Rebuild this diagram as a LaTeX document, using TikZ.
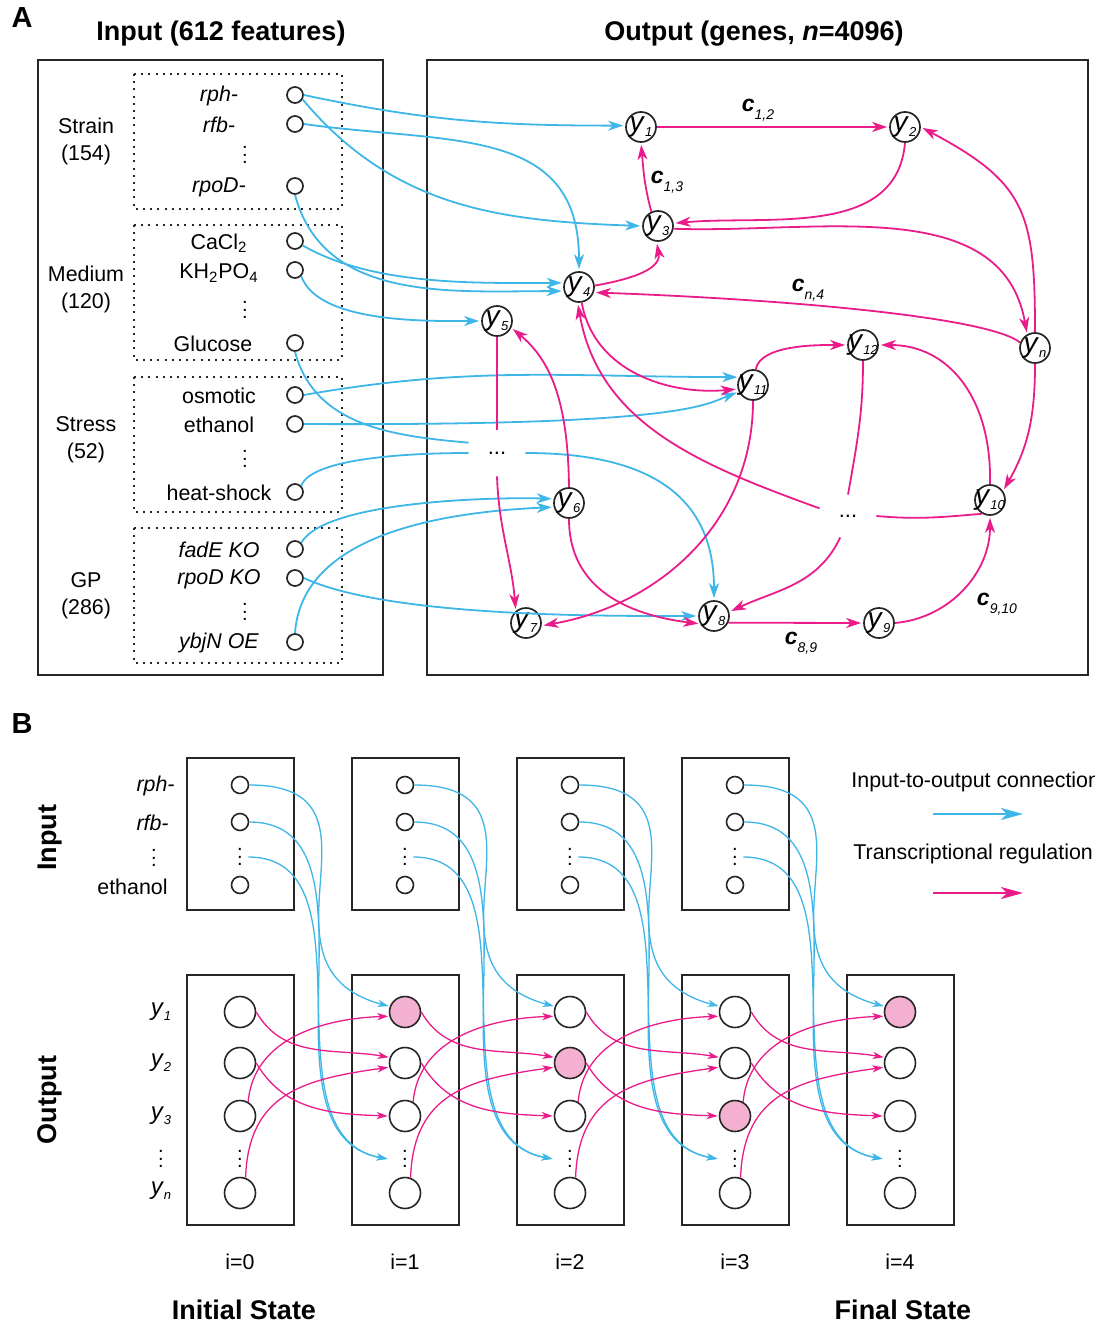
\documentclass[tikz,border=0pt]{standalone}
\usepackage{fontspec}
\setmainfont{Liberation Sans}
\usetikzlibrary{arrows.meta}

\definecolor{iocol}{RGB}{62,182,232}
\definecolor{regcol}{RGB}{234,28,138}
\definecolor{hitcol}{RGB}{244,176,208}

\newcommand{\vdts}{\vbox{\baselineskip=3.6pt\lineskiplimit=-10pt\hbox{.}\hbox{.}\hbox{.}}}
\newcommand{\gy}[1]{\textit{y}\raisebox{-0.35ex}{\fontsize{6.5}{6.5}\selectfont\textit{#1}}}
\newcommand{\cc}[1]{\textbf{\textit{c}}\raisebox{-0.7ex}{\fontsize{7}{7}\selectfont\textit{#1}}}

\tikzset{
  panel/.style={font=\fontsize{14.5}{16}\selectfont\bfseries},
  head/.style={font=\fontsize{13.5}{15}\selectfont\bfseries},
  frame/.style={draw=black!85, line width=0.85pt},
  grp/.style={draw=black!85, line width=1pt, dash pattern=on 1pt off 2.6pt},
  grplab/.style={align=center, font=\fontsize{10.7}{13.5}\selectfont},
  feat/.style={circle, draw=black!85, line width=0.85pt, minimum size=8pt, inner sep=0pt},
  vd/.style={inner sep=0pt, font=\fontsize{10}{10}\selectfont},
  gene/.style={circle, draw=black!85, line width=0.85pt, minimum size=15pt, inner sep=-6pt, font=\fontsize{14}{14}\selectfont},
  gap/.style={rectangle, inner sep=0pt, minimum width=28pt, font=\fontsize{11}{11}\selectfont},
  clab/.style={font=\fontsize{11.5}{11.5}\selectfont},
  io/.style={color=iocol, line width=0.9pt, -{Stealth[length=7.5pt,width=5pt,inset=2.2pt]}, shorten >=1pt},
  ioline/.style={color=iocol, line width=0.9pt},
  reg/.style={color=regcol, line width=0.9pt, -{Stealth[length=7.5pt,width=5pt,inset=2.2pt]}, shorten >=1pt},
  regline/.style={color=regcol, line width=0.9pt},
  icirc/.style={circle, draw=black!85, line width=0.8pt, minimum size=8.5pt, inner sep=0pt},
  ocirc/.style={circle, draw=black!85, line width=0.8pt, minimum size=15.5pt, inner sep=0pt},
  idots/.style={vd, minimum width=8pt},
  odots/.style={vd, minimum width=16pt},
  blab/.style={inner sep=0pt},
  iob/.style={color=iocol, line width=0.65pt, -{Stealth[length=5.5pt,width=3.6pt,inset=1.6pt]}, shorten >=0.5pt},
  regb/.style={color=regcol, line width=0.65pt, -{Stealth[length=5.5pt,width=3.6pt,inset=1.6pt]}, shorten >=0.5pt},
  legarr/.style={line width=0.9pt, -{Stealth[length=11pt,width=6pt,inset=3pt]}},
}

\begin{document}
\begin{tikzpicture}[x=0.5pt, y=-0.5pt, font=\fontsize{10.7}{13}\selectfont]
		\useasboundingbox (0,0) rectangle (1095,1332);
		
		%%%%% PANEL A %%%%%
		
		\node[panel] (labA) at (22,18) {A};
		\node[head] (hin) at (221,34) {Input (612 features)};
		\node[head] (hout) at (754,34) {Output (genes, \textit{n}=4096)};
		
		\draw[frame] (38,60) rectangle (383,675);
		\draw[frame] (427,60) rectangle (1088,675);
		
		\draw[grp] (134,74) rectangle (342,209);
		\draw[grp] (134,225) rectangle (342,360);
		\draw[grp] (134,377) rectangle (342,512);
		\draw[grp] (134,528) rectangle (342,663);
		
		\node[grplab] (gstrain) at (86,141) {Strain\\(154)};
		\node[grplab] (gmedium) at (86,289) {Medium\\(120)};
		\node[grplab] (gstress) at (86,440) {Stress\\(52)};
		\node[grplab] (ggp) at (86,596) {GP\\(286)};
		
		% input features
		\node (trph) at (219,96) {\textit{rph-}};
		\node (trfb) at (219,125) {\textit{rfb-}};
		\node[vd] (dstrain) at (245,155) {\vdts};
		\node (trpod) at (219,187) {\textit{rpoD-}};
		\node (tcacl) at (219,243) {CaCl\textsubscript{2}};
		\node (tkhpo) at (219,273) {KH\textsubscript{2}PO\textsubscript{4}};
		\node[vd] (dmedium) at (245,310) {\vdts};
		\node (tglu) at (213,344) {Glucose};
		\node (tosm) at (219,396) {osmotic};
		\node (teth) at (219,425) {ethanol};
		\node[vd] (dstress) at (245,459) {\vdts};
		\node (theat) at (219,493) {heat-shock};
		\node (tfade) at (219,550) {\textit{fadE KO}};
		\node (trpoko) at (219,579) {\textit{rpoD KO}};
		\node[vd] (dgp) at (245,612) {\vdts};
		\node (tybjn) at (219,643) {\textit{ybjN OE}};
		
		\node[feat] (rph) at (295,95) {};
		\node[feat] (rfb) at (295,124) {};
		\node[feat] (rpod) at (295,186) {};
		\node[feat] (cacl) at (295,241) {};
		\node[feat] (khpo) at (295,270) {};
		\node[feat] (glu) at (295,343) {};
		\node[feat] (osm) at (295,395) {};
		\node[feat] (eth) at (295,424) {};
		\node[feat] (heat) at (295,492) {};
		\node[feat] (fade) at (295,549) {};
		\node[feat] (rpoko) at (295,578) {};
		\node[feat] (ybjn) at (295,642) {};
		
		% output genes
		\node[gene] (y1) at (641,127) {\gy{1}};
		\node[gene] (y2) at (905,127) {\gy{2}};
		\node[gene] (y3) at (658,226) {\gy{3}};
		\node[gene] (y4) at (579,287) {\gy{4}};
		\node[gene] (y5) at (497,321) {\gy{5}};
		\node[gene] (y12) at (863,345) {\gy{12}};
		\node[gene] (yn) at (1035,348) {\gy{n}};
		\node[gene] (y11) at (753,385) {\gy{11}};
		\node[gene] (y6) at (569,503) {\gy{6}};
		\node[gene] (y10) at (990,500) {\gy{10}};
		\node[gene] (y7) at (526,623) {\gy{7}};
		\node[gene] (y8) at (714,616) {\gy{8}};
		\node[gene] (y9) at (879,623) {\gy{9}};
		\node[gap, minimum height=23pt] (dl) at (497,453) {...};
		\node[gap, minimum height=21pt] (dr) at (848,516) {...};
		
		\node[clab] (c12) at (758,110) {\cc{1,2}};
		\node[clab] (c13) at (667,182) {\cc{1,3}};
		\node[clab] (cn4) at (808,290) {\cc{n,4}};
		\node[clab] (c89) at (801,643) {\cc{8,9}};
		\node[clab] (c910) at (997,604) {\cc{9,10}};
		
		% input-to-output
		\draw[io] (rph.east) to[out=-12,in=180] (y1.175);
		\draw[io] (rph.-30) to[out=-50,in=178] (y3.west);
		\draw[io] (rfb.east) to[out=-8,in=90,looseness=1.2] (y4.north);
		\draw[io] (rpod.south) to[out=-75,in=180] (y4.195);
		\draw[io] (cacl.-30) to[out=-30,in=180,looseness=0.8] (y4.165);
		\draw[io] (khpo.-45) to[out=-70,in=180,looseness=0.7] (y5.west);
		\draw[ioline] (glu.south) to[out=-75,in=175] (dl.160);
		\draw[io] (osm.east) to[out=10,in=180] (y11.150);
		\draw[io] (eth.east) .. controls (680,426) and (705,405) .. (y11.205);
		\draw[ioline] (heat.45) to[out=70,in=180,looseness=0.5] (dl.west);
		\draw[io] (dl.east) to[out=0,in=90,looseness=1.2] (y8.north);
		\draw[io] (fade.45) to[out=60,in=178,looseness=0.5] (y6.165);
		\draw[io] (rpoko.east) to[out=-25,in=180,looseness=0.6] (y8.west);
		\draw[io] (ybjn.north) .. controls (300,560) and (380,515) .. (y6.195);
		
		% regulation
		\draw[reg] (y1.east) -- (y2.west);
		\draw[reg] (y3.115) to[out=105,in=-85] (y1.south);
		\draw[reg] (y2.south) to[out=-95,in=5] (y3.10);
		\draw[reg] (y3.-10) to[out=-2,in=100] (yn.120);
		\draw[reg] (yn.north) to[out=90,in=-28,looseness=1.3] (y2.east);
		\draw[reg] (yn.160) .. controls (990,318) and (800,300) .. (y4.-20);
		\draw[reg] (y4.5) to[out=10,in=-80] (y3.-95);
		\draw[reg] (y4.-80) to[out=-80,in=185] (y11.195);
		\draw[reg] (yn.south) to[out=-90,in=60] (y10.35);
		\draw[reg] (y11.80) to[out=80,in=180,looseness=0.7] (y12.west);
		\draw[reg] (y10.north) .. controls (992,400) and (950,345) .. (y12.east);
		\draw[regline] (y12.south) to[out=-90,in=80] (dr.north);
		\draw[regline] (y10.240) to[out=185,in=-5] (dr.east);
		\draw[reg] (dr.165) to[out=160,in=-80] (y4.-95);
		\draw[reg] (dr.-110) to[out=-115,in=25] (y8.15);
		\draw[reg] (y8.-25) -- (y9.west);
		\draw[reg] (y9.east) to[out=5,in=-90] (y10.south);
		\draw[regline] (y5.south) -- (dl.north);
		\draw[reg] (dl.south) to[out=-88,in=95] (y7.130);
		\draw[reg] (y6.north) .. controls (568,400) and (550,360) .. (y5.-25);
		\draw[reg] (y6.south) .. controls (569,590) and (630,615) .. (y8.-150);
		\draw[reg] (y11.south) to[out=-90,in=10] (y7.-10);
		
		%%%%% PANEL B %%%%%
		
		\node[panel] (labB) at (22,724) {B};
		\node[head, rotate=90] (hbin) at (50,838) {Input};
		\node[head, rotate=90] (hbout) at (50,1100) {Output};
		
		\node[blab, anchor=east] (brph) at (175,786) {\textit{rph-}};
		\node[blab, anchor=east] (brfb) at (169,823) {\textit{rfb-}};
		\node[vd] (bdin) at (154,858) {\vdts};
		\node[blab, anchor=east] (beth) at (168,887) {ethanol};
		
		\node[font=\fontsize{12}{12}\selectfont] (by1) at (161,1012) {\gy{1}};
		\node[font=\fontsize{12}{12}\selectfont] (by2) at (161,1063) {\gy{2}};
		\node[font=\fontsize{12}{12}\selectfont] (by3) at (161,1116) {\gy{3}};
		\node[vd] (bdout) at (161,1159) {\vdts};
		\node[font=\fontsize{12}{12}\selectfont] (byn) at (161,1191) {\gy{n}};
		
		\foreach \i in {0,...,3}{
			\pgfmathsetmacro{\bx}{187+165*\i}
			\pgfmathsetmacro{\cx}{\bx+53}
			\draw[frame] (\bx,758) rectangle ({\bx+107},910);
			\node[icirc] (in\i-1) at (\cx,785) {};
			\node[icirc] (in\i-2) at (\cx,822) {};
			\node[idots] (in\i-d) at (\cx,857) {\vdts};
			\node[icirc] (in\i-3) at (\cx,885) {};
		}
		
		\foreach \i/\h in {0/0,1/1,2/2,3/3,4/1}{
			\pgfmathsetmacro{\bx}{187+165*\i}
			\pgfmathsetmacro{\cx}{\bx+53}
			\draw[frame] (\bx,975) rectangle ({\bx+107},1225);
			\foreach \k/\yy in {1/1012,2/1063,3/1116}{
				\ifnum\k=\h \def\fc{hitcol}\else\def\fc{white}\fi
				\node[ocirc, fill=\fc] (o\i-\k) at (\cx,\yy) {};
			}
			\node[odots] (o\i-d) at (\cx,1159) {\vdts};
			\node[ocirc] (o\i-n) at (\cx,1193) {};
			\node (ti\i) at (\cx,1262) {i=\i};
		}
		
		\foreach \i in {0,...,3}{
			\pgfmathtruncatemacro{\j}{\i+1}
			\draw[iob] (in\i-1.east) to[out=0,in=165,looseness=1.5] (o\j-1.160);
			\draw[iob] (in\i-2.east) to[out=0,in=170] (o\j-d.west);
			\draw[iob] (in\i-d.east) to[out=0,in=170] (o\j-d.west);
			\draw[regb] (o\i-1.east) to[out=-60,in=170] (o\j-2.160);
			\draw[regb] (o\i-2.east) to[out=-60,in=178] (o\j-3.west);
			\draw[regb] (o\i-3.60) to[out=85,in=182] (o\j-1.195);
			\draw[regb] (o\i-n.70) to[out=88,in=188,looseness=1.2] (o\j-2.195);
		}
		
		\node[head] (init) at (244,1310) {Initial State};
		\node[head] (final) at (903,1310) {Final State};
		
		% legend
		\node[blab, anchor=west] (lgio) at (851,782) {Input-to-output connection};
		\coordinate (lgio0) at (933,814);
		\coordinate (lgio1) at (1023,814);
		\draw[legarr, iocol] (lgio0) -- (lgio1);
		\node[blab, anchor=west] (lgreg) at (853,854) {Transcriptional regulation};
		\coordinate (lgreg0) at (933,893);
		\coordinate (lgreg1) at (1023,893);
		\draw[legarr, regcol] (lgreg0) -- (lgreg1);
		
	\end{tikzpicture}
\end{document}
